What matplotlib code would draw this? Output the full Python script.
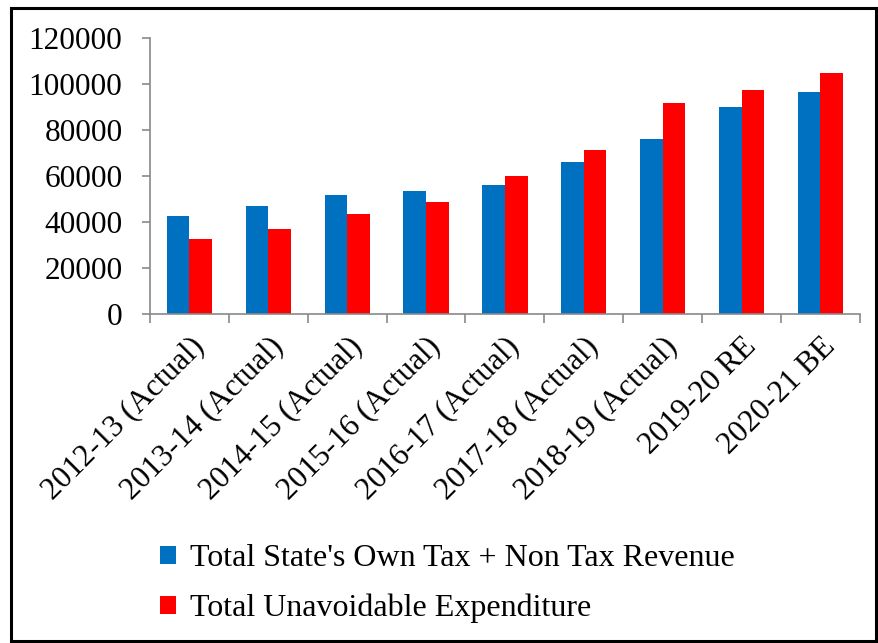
import matplotlib.pyplot as plt
import numpy as np
from matplotlib.patches import Rectangle

# Data
years = [
    "2012-13 (Actual)",
    "2013-14 (Actual)",
    "2014-15 (Actual)",
    "2015-16 (Actual)",
    "2016-17 (Actual)",
    "2017-18 (Actual)",
    "2018-19 (Actual)",
    "2019-20 RE",
    "2020-21 BE",
]
revenue = [42400, 46900, 51800, 53400, 55900, 66200, 76000, 89900, 96500]
expenditure = [32600, 36800, 43400, 48600, 59900, 71100, 91600, 97300, 104800]

plt.rcParams["font.family"] = ["Liberation Serif", "DejaVu Serif"]

fig = plt.figure(figsize=(8.79, 6.43), dpi=100)
ax = fig.add_axes([0.1706, 0.5117, 0.8077, 0.4292])

x = np.arange(len(years))
w = 0.287
ax.bar(x - w / 2, revenue, w, color="#0070C0", label="Total State's Own Tax + Non Tax Revenue")
ax.bar(x + w / 2, expenditure, w, color="#FF0000", label="Total Unavoidable Expenditure")

ax.set_xlim(-0.5, len(years) - 0.5)
ax.set_ylim(0, 120000)
ax.set_yticks(range(0, 120001, 20000))
ax.tick_params(axis="y", labelsize=22.5, length=5.8, width=1.2, color="#898989", direction="out", pad=14)

ax.set_xticks(x)
ax.set_xticklabels(years, rotation=45, ha="right", rotation_mode="anchor", fontsize=22.5)
ax.tick_params(axis="x", which="major", length=0, pad=13)
ax.set_xticks(np.arange(-0.5, len(years)), minor=True)
ax.tick_params(axis="x", which="minor", length=6.5, width=1.2, color="#898989", direction="out")

for side in ["top", "right"]:
    ax.spines[side].set_visible(False)
for side in ["left", "bottom"]:
    ax.spines[side].set_color("#898989")
    ax.spines[side].set_linewidth(1.2)

# Legend below the rotated labels
fig.legend(
    loc="center left",
    bbox_to_anchor=(0.164, 0.092),
    frameon=False,
    fontsize=23,
    borderpad=0,
    handlelength=0.5,
    handleheight=0.5,
    handletextpad=0.45,
    labelspacing=0.65,
)

# outer border
fig.patches.append(Rectangle((0.012, 0.003), 0.985, 0.985, transform=fig.transFigure,
                             fill=False, edgecolor="black", linewidth=2.2))

plt.savefig("out.png", dpi=100)
